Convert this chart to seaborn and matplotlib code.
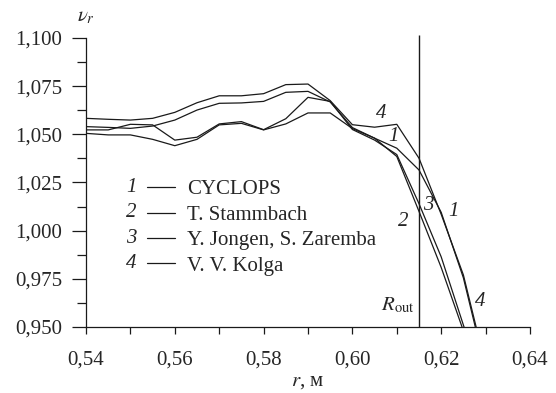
import numpy as np
import pandas as pd
import matplotlib
matplotlib.use('Agg')
import matplotlib.pyplot as plt
from matplotlib.ticker import MultipleLocator, FuncFormatter
import seaborn as sns

# radius, m
r = [0.540, 0.545, 0.550, 0.555, 0.560, 0.565, 0.570, 0.575, 0.580, 0.585,
     0.590, 0.595, 0.600, 0.605, 0.610, 0.615, 0.620, 0.625, 0.630]

# nu_r for each source
cyclops = [1.0540, 1.0536, 1.0531, 1.0543, 1.0574, 1.0626, 1.0661, 1.0663, 1.0671, 1.0718,
           1.0723, 1.0668, 1.0535, 1.0480, 1.0428, 1.0315, 1.0095, 0.9755, 0.9280]
stammbach = [1.0505, 1.0497, 1.0497, 1.0474, 1.0441, 1.0474, 1.0549, 1.0557, 1.0523, 1.0554,
             1.0611, 1.0611, 1.0530, 1.0480, 1.0385, 1.0100, 0.9809, 0.9480, 0.9140]
jongen = [1.0523, 1.0523, 1.0552, 1.0549, 1.0470, 1.0485, 1.0554, 1.0566, 1.0524, 1.0581,
          1.0692, 1.0671, 1.0525, 1.0470, 1.0395, 1.0140, 0.9864, 0.9510, 0.9170]
kolga = [1.0583, 1.0578, 1.0574, 1.0583, 1.0614, 1.0664, 1.0700, 1.0700, 1.0711, 1.0758,
         1.0761, 1.0675, 1.0550, 1.0537, 1.0552, 1.0376, 1.0085, 0.9770, 0.9300]

names = ['CYCLOPS', 'T. Stammbach', 'Y. Jongen, S. Zaremba', 'V. V. Kolga']
numbers = ['1', '2', '3', '4']
r_out = 0.615

# curve number labels placed on the plot
label_text = ['4', '1', '2', '3', '1', '4']
label_r = [0.6066, 0.6092, 0.6114, 0.6170, 0.6227, 0.6287]
label_nu = [1.0610, 1.0490, 1.0050, 1.0133, 1.0097, 0.9630]

df = pd.DataFrame({
    'r': r * 4,
    'nu': cyclops + stammbach + jongen + kolga,
    'source': np.repeat(names, len(r)),
})

sns.set_style('ticks')
plt.rcParams['font.family'] = ['Liberation Serif', 'DejaVu Serif']
plt.rcParams['mathtext.fontset'] = 'stix'
fs = 15

fig, ax = plt.subplots(figsize=(5.56, 3.93), dpi=100)
fig.subplots_adjust(left=0.1547, right=0.9532, bottom=0.168, top=0.9033)

sns.lineplot(data=df, x='r', y='nu', hue='source', hue_order=names,
             palette=['#1a1a1a'] * 4, estimator=None, sort=False,
             linewidth=0.9, legend=False, ax=ax)

ax.set_xlim(0.54, 0.64)
ax.set_ylim(0.95, 1.10)
ax.vlines(r_out, 0.95, 1.1015, color='#1a1a1a', linewidth=1.0, clip_on=False)

ax.xaxis.set_major_locator(MultipleLocator(0.02))
ax.xaxis.set_minor_locator(MultipleLocator(0.01))
ax.yaxis.set_major_locator(MultipleLocator(0.025))
ax.yaxis.set_minor_locator(MultipleLocator(0.0125))
ax.xaxis.set_major_formatter(FuncFormatter(lambda v, p: f'{v:.2f}'.replace('.', ',')))
ax.yaxis.set_major_formatter(FuncFormatter(lambda v, p: f'{v:.3f}'.replace('.', ',')))
ax.tick_params(axis='x', which='both', direction='out', length=5, width=0.9,
               pad=12, labelsize=fs, color='#1a1a1a')
ax.tick_params(axis='y', which='major', direction='out', length=10, width=0.9,
               pad=7, labelsize=fs, color='#1a1a1a')
ax.tick_params(axis='y', which='minor', direction='out', length=6.5, width=0.9,
               color='#1a1a1a')
sns.despine(ax=ax)
for s in ['left', 'bottom']:
    ax.spines[s].set_linewidth(0.9)
    ax.spines[s].set_color('#1a1a1a')

ax.set_xlabel('$r$, м', fontsize=fs, labelpad=2)
ax.set_ylabel('')
ax.text(0.0, 1.072, r'$\nu_r$', transform=ax.transAxes, fontsize=fs,
        ha='center', va='center')
ax.text(r_out - 0.0009, 0.9589, r'$R_{\mathrm{out}}$', fontsize=fs,
        ha='right', va='baseline')

for t, x, y in zip(label_text, label_r, label_nu):
    ax.text(x, y, t, fontsize=fs, style='italic', ha='center', va='center')

handles = ax.get_lines()[:4]
leg = ax.legend(handles, names, loc='upper left', bbox_to_anchor=(0.137, 0.509),
                frameon=False, fontsize=fs, handlelength=1.35, handletextpad=0.58,
                labelspacing=0.28, borderpad=0, borderaxespad=0)

fig.canvas.draw()
inv = ax.transAxes.inverted()
for h, num in zip(leg.legend_handles, numbers):
    bb = h.get_window_extent()
    x, y = inv.transform((bb.x0 - 10, (bb.y0 + bb.y1) / 2))
    ax.text(x, y, num, transform=ax.transAxes, fontsize=fs, style='italic',
            ha='right', va='center')

fig.savefig('out.png', dpi=100)
